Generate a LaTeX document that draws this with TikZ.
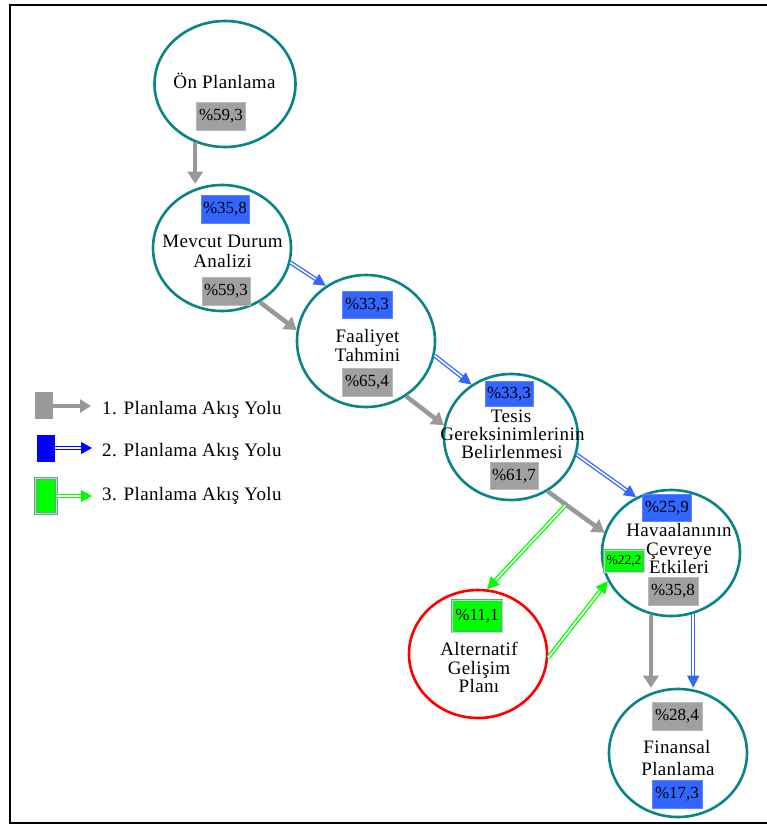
\documentclass[tikz,border=0pt]{standalone}
\usepackage{fontspec}
\setmainfont{Liberation Serif}
\newfontfamily\lblfont{Liberation Serif}[LetterSpace=2]
\usetikzlibrary{shapes.geometric,arrows.meta,calc}
\definecolor{tealC}{HTML}{0A8484}
\definecolor{blueC}{HTML}{3366FF}
\definecolor{grayA}{HTML}{999999}
\definecolor{grayBox}{HTML}{A0A0A0}
\definecolor{grayBd}{HTML}{B8B8B8}
\definecolor{greenC}{HTML}{00FF00}
\definecolor{greenBd}{HTML}{5AAA7A}
\definecolor{redC}{HTML}{FF0000}
\definecolor{pureBlue}{HTML}{0000FF}
\begin{document}
\begin{tikzpicture}[x=1pt,y=-1pt,
  stage/.style={ellipse, draw=tealC, line width=2.6pt, fill=white, minimum width=138pt, minimum height=126pt, inner sep=0pt},
  lbl/.style={font=\lblfont\fontsize{19}{19}\selectfont, inner sep=0pt, anchor=base},
  pct/.style={font=\fontsize{17}{17}\selectfont, inner sep=0pt, minimum width=49pt, minimum height=28pt},
  gbox/.style={pct, fill=grayBox, draw=grayBd, line width=1pt},
  bbox/.style={pct, fill=blueC, draw=blueC!80!white, line width=1pt},
  grbox/.style={pct, fill=greenC, draw=greenBd, double=greenBd!40!white, double distance=0.8pt, line width=1pt},
  garrow/.style={draw=grayA, line width=4.5pt, -{Triangle[length=12pt,width=15pt]}},
  barrow/.style={draw=blueC, double=white, double distance=1.6pt, line width=1.3pt, -{Triangle[length=12pt,width=12pt]}},
  grarrow/.style={draw=greenC, double=white, double distance=1.6pt, line width=1.3pt, -{Triangle[length=12pt,width=12pt]}},
  leg/.style={font=\lblfont\fontsize{19}{19}\selectfont, inner sep=0pt, anchor=base west},
]
\useasboundingbox[fill=white] (0,0) rectangle (767,825);
\draw[line width=2pt] (767,5) -- (10,5) -- (10,823) -- (767,823);

% stages
\node[stage, minimum width=141pt] (on) at (225,84) {};
\node[stage] (mevcut) at (222,248) {};
\node[stage, minimum height=132pt] (faal) at (366,341) {};
\node[stage, minimum width=134pt] (tesis) at (511,437) {};
\node[stage] (hava) at (671,553) {};
\node[stage, draw=redC, minimum height=128pt] (alt) at (478,654) {};
\node[stage, minimum height=128pt] (fin) at (678,753) {};

% connectors
\draw[garrow] (on.-117) -- (on.-117 |- mevcut.north);
\draw[garrow] (mevcut.-55) -- (faal.171);
\draw[barrow] (mevcut.-12) -- (faal.126);
\draw[garrow] (faal.-54) -- (tesis.170);
\draw[barrow] (faal.-12) -- (tesis.127);
\draw[garrow] (tesis.-56) -- (hava.163);
\draw[barrow] (tesis.-15) -- (hava.122);
\draw[grarrow] ($(tesis.-50)+(12,18)$) -- (alt.82);
\draw[grarrow] (alt.-3) -- (hava.-156);
\draw[garrow] (hava.-108) -- (hava.-108 |- fin.north);
\draw[barrow] (hava.-70) -- (hava.-70 |- fin.north);

% labels
\node[lbl] (onT) at (224.5,88) {Ön Planlama};
\node[lbl] (mevT1) at (222.5,247) {Mevcut Durum};
\node[lbl] (mevT2) at (222.5,267) {Analizi};
\node[lbl] (faT1) at (367.5,342) {Faaliyet};
\node[lbl] (faT2) at (367.5,361) {Tahmini};
\node[lbl] (teT1) at (511,422) {Tesis};
\node[lbl] (teT2) at (512.5,440) {Gereksinimlerinin};
\node[lbl] (teT3) at (512,458) {Belirlenmesi};
\node[lbl] (haT1) at (679,536) {Havaalanının};
\node[lbl] (haT2) at (679,555) {Çevreye};
\node[lbl] (haT3) at (679,573) {Etkileri};
\node[lbl] (alT1) at (479,655) {Alternatif};
\node[lbl] (alT2) at (479,674) {Gelişim};
\node[lbl] (alT3) at (479,692) {Planı};
\node[lbl] (fiT1) at (677,753) {Finansal};
\node[lbl] (fiT2) at (678,775) {Planlama};

% percentage boxes
\node[gbox] (onP) at (221,116) {\%59,3};
\node[bbox, minimum width=48pt] (mevB) at (225,209) {\%35,8};
\node[gbox, minimum width=48pt] (mevG) at (226,291) {\%59,3};
\node[bbox, minimum width=50pt, minimum height=27pt] (faB) at (367,305) {\%33,3};
\node[gbox, minimum width=50pt] (faG) at (367,382) {\%65,4};
\node[bbox, minimum width=48pt, minimum height=25pt] (teB) at (509,394) {\%33,3};
\node[gbox, minimum width=48pt, minimum height=27pt] (teG) at (514,476) {\%61,7};
\node[bbox, minimum height=27pt] (haB) at (667,508) {\%25,9};
\node[grbox, minimum width=40pt, minimum height=22pt, font=\fontsize{13.5}{13.5}\selectfont] (haGr) at (624,561) {\%22,2};
\node[gbox, minimum width=50pt] (haG) at (673,591) {\%35,8};
\node[grbox, minimum width=50pt, minimum height=32pt] (alGr) at (477,616) {\%11,1};
\node[gbox, minimum width=50pt] (fiG) at (677,716) {\%28,4};
\node[bbox, minimum width=50pt] (fiB) at (677,794) {\%17,3};

% legend
\node[fill=grayA, minimum width=18pt, minimum height=27pt, inner sep=0pt] (lg1) at (44,405.5) {};
\coordinate (lg1e) at (91,406);
\draw[draw=grayA, line width=4pt, -{Triangle[length=11pt,width=13pt]}] (lg1.east |- lg1e) -- (lg1e);
\node[leg] (lt1) at (102,414) {1. Planlama Akış Yolu};

\node[fill=pureBlue, minimum width=18pt, minimum height=27pt, inner sep=0pt] (lg2) at (46,448.5) {};
\coordinate (lg2e) at (92,448);
\draw[draw=pureBlue, double=white, double distance=1.6pt, line width=1.3pt, -{Triangle[length=11pt,width=12pt]}] (lg2.east |- lg2e) -- (lg2e);
\node[leg] (lt2) at (102,456) {2. Planlama Akış Yolu};

\node[fill=greenC, draw=greenBd, double=greenBd!40!white, double distance=1pt, line width=1.2pt, minimum width=21pt, minimum height=35pt, inner sep=0pt] (lg3) at (46,496) {};
\coordinate (lg3e) at (92,496);
\draw[draw=greenC, double=white, double distance=1.6pt, line width=1.3pt, -{Triangle[length=11pt,width=12pt]}] (lg3.east |- lg3e) -- (lg3e);
\node[leg] (lt3) at (102,500) {3. Planlama Akış Yolu};
\end{tikzpicture}
\end{document}
